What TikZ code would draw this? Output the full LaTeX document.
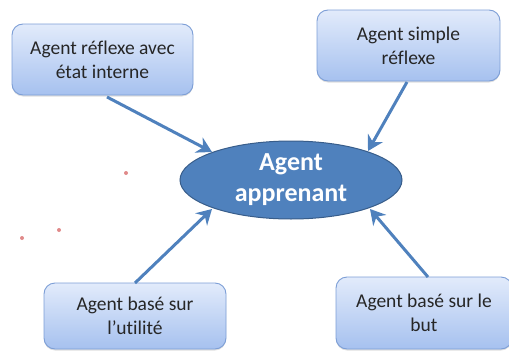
\documentclass[tikz,border=0pt]{standalone}
\usepackage{fontspec}
\setmainfont{Carlito}[Ligatures={NoCommon}]
\usetikzlibrary{arrows.meta,shapes.geometric,shadows}
\definecolor{boxtop}{HTML}{E2EBFB}
\definecolor{boxbot}{HTML}{A6C1EF}
\definecolor{boxline}{HTML}{7C9ED6}
\definecolor{arrowblue}{HTML}{4F81BD}
\definecolor{ellfill}{HTML}{4F81BD}
\definecolor{ellline}{HTML}{385D8A}
\definecolor{dotred}{HTML}{E08A8A}
\tikzset{
  agentbox/.style={draw=boxline, line width=0.9pt, rounded corners=11pt,
    top color=boxtop, bottom color=boxbot, align=center,
    text=black!85, font=\fontsize{19.5}{24}\selectfont, inner sep=0pt,
    drop shadow={shadow xshift=0pt, shadow yshift=-1.5pt, opacity=0.25}},
  center/.style={ellipse, draw=ellline, line width=1pt, fill=ellfill,
    text=white, align=center, font=\bfseries\fontsize{26}{31}\selectfont,
    inner sep=0pt},
  link/.style={draw=arrowblue, line width=3pt,
    -{Stealth[length=15pt,width=17pt,inset=5pt]}}
}
\begin{document}
\begin{tikzpicture}[x=1pt,y=-1pt]
\useasboundingbox (0,0) rectangle (509,351);
\node[agentbox, minimum width=181pt, minimum height=71pt] (a1) at (102.5,59.5) {Agent réflexe avec\\état interne};
\node[agentbox, minimum width=183pt, minimum height=71pt] (a2) at (408.5,45.5) {Agent simple\\réflexe};
\node[agentbox, minimum width=182pt, minimum height=66pt] (a3) at (135,316) {Agent basé sur\\l’utilité};
\node[agentbox, minimum width=176pt, minimum height=72pt] (a4) at (424,313) {Agent basé sur le\\but};
\node[center, minimum width=222pt, minimum height=78pt] (c) at (291,180) {Agent\\apprenant};
\coordinate (s1) at (107,97);
\coordinate (s2) at (407,82);
\coordinate (s3) at (135,283);
\coordinate (s4) at (428,277);
\coordinate (t1) at (212,152);
\coordinate (t2) at (368,151);
\coordinate (t3) at (212,209);
\coordinate (t4) at (370,209);
\draw[link] (s1) -- (t1);
\draw[link] (s2) -- (t2);
\draw[link] (s3) -- (t3);
\draw[link] (s4) -- (t4);
\fill[dotred] (126,173) circle (2pt);
\fill[dotred] (59,230) circle (2pt);
\fill[dotred] (22,238) circle (2pt);
\end{tikzpicture}
\end{document}
